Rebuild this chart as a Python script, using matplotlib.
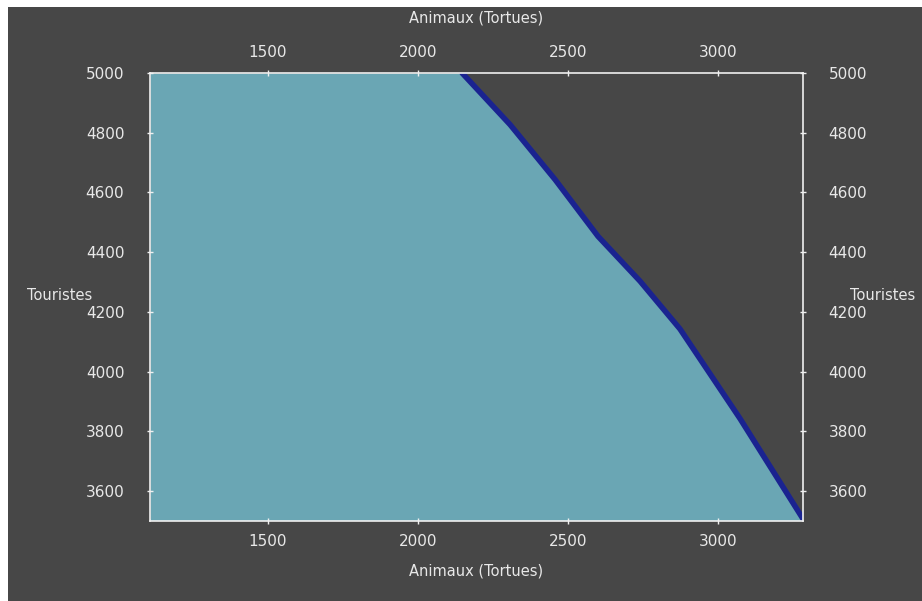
import matplotlib
matplotlib.use("Agg")
import matplotlib.pyplot as plt
from matplotlib.patches import Rectangle
import numpy as np

# Data
animaux = [2147, 2307, 2457, 2600, 2740, 2873, 3073, 3283]
touristes = [5000, 4827, 4643, 4453, 4303, 4143, 3843, 3507]
x_ticks = [1500, 2000, 2500, 3000]
y_ticks = [3600, 3800, 4000, 4200, 4400, 4600, 4800, 5000]
x_range = [1107, 3283]
y_range = [3500, 5000]
x_label = "Animaux (Tortues)"
y_label = "Touristes"

bg = "#474747"
fill_c = "#6aa6b4"
line_c = "#1a2390"
txt_c = "#e8e8e8"

fig = plt.figure(figsize=(9.22, 6.01), dpi=100)
fig.patch.set_facecolor("white")
fig.patches.append(Rectangle((8 / 922, 0), 1 - 8 / 922, 1 - 7 / 601,
                             transform=fig.transFigure, facecolor=bg,
                             edgecolor="none", zorder=-10))

ax = fig.add_axes([150 / 922, 1 - 521 / 601, (803 - 150) / 922, (521 - 73) / 601])
ax.set_facecolor(bg)

ys = np.array(touristes[::-1], dtype=float)
xs = np.array(animaux[::-1], dtype=float)
ax.fill_betweenx(ys, x_range[0], xs, color=fill_c, linewidth=0, zorder=1)
ax.fill_betweenx([y_range[0], ys[0]], x_range[0], xs[0], color=fill_c, linewidth=0, zorder=1)
ax.plot(animaux, touristes, color=line_c, linewidth=4.0, solid_capstyle="round", zorder=2)

ax.set_xlim(*x_range)
ax.set_ylim(*y_range)

for s in ax.spines.values():
    s.set_color("#f0f0f0")
    s.set_linewidth(1.2)
    s.set_zorder(3)

ax.set_xticks(x_ticks)
ax.set_yticks(y_ticks)
ax.tick_params(axis="both", which="both", colors="#f0f0f0", direction="inout",
               length=5, width=1, labelcolor=txt_c, labelsize=11,
               top=True, right=True, labeltop=True, labelright=True)
ax.tick_params(axis="x", pad=7)
ax.tick_params(axis="y", pad=16)

ax.set_xlabel(x_label, color=txt_c, fontsize=10.5, labelpad=10)
top = ax.secondary_xaxis("top")
top.set_xticks([])
top.spines["top"].set_visible(False)
top.set_xlabel(x_label, color=txt_c, fontsize=10.5, labelpad=36)

fig.text(60 / 922, 1 - 296 / 601, y_label, color=txt_c, fontsize=10.5,
         ha="center", va="center")
fig.text(883 / 922, 1 - 296 / 601, y_label, color=txt_c, fontsize=10.5,
         ha="center", va="center")

fig.savefig("out.png", dpi=100, facecolor=fig.get_facecolor())
